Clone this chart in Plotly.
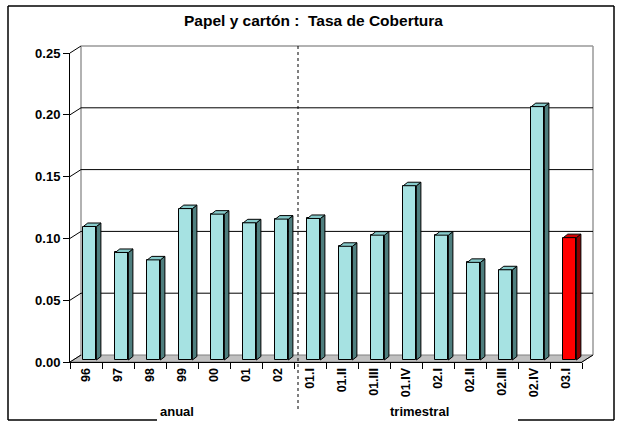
import plotly.graph_objects as go

# ---- data ----
categories = ["96", "97", "98", "99", "00", "01", "02",
              "01.I", "01.II", "01.III", "01.IV", "02.I", "02.II", "02.III", "02.IV", "03.I"]
tasa = [0.108, 0.087, 0.081, 0.1225, 0.118, 0.111, 0.114,
        0.1145, 0.092, 0.101, 0.141, 0.101, 0.079, 0.073, 0.205, 0.099]
y_ticks = [0.00, 0.05, 0.10, 0.15, 0.20, 0.25]
group_labels = ["anual", "trimestral"]
title_text = "Papel y cartón :  Tasa de Cobertura"

# ---- geometry helpers (pixel -> paper) ----
W_FIG, H_FIG = 621, 422
ML, MR, MT, MB = 70, 39, 53, 60
PW = W_FIG - ML - MR
PH = H_FIG - MT - MB
Y_BOT = H_FIG - MB


def px(x):
    return (x - ML) / PW


def py(y):
    return (Y_BOT - y) / PH


YMAX = 0.25
UNIT = PH / YMAX          # pixels per data unit (y)
XUNIT = PW / len(categories)  # pixels per category
DEPTH_X, DEPTH_Y = 11, 7   # wall depth in px
BAR_W, BAR_OFF = 0.41, -0.085
BAR_DX = 4.5 / XUNIT
BAR_DY = 3.5 / UNIT
BASE = 2 / UNIT

FRONT = "#A6E2E2"
SIDE = "#4E7E7E"
TOP = "#86CACA"
RED_FRONT = "#FF0000"
RED_SIDE = "#8E0000"
RED_TOP = "#D00000"

n = len(categories)
xs = list(range(n))
is_red = [c == "03.I" for c in categories]

fig = go.Figure()

# front faces
fig.add_trace(go.Bar(
    x=xs, y=tasa, base=[BASE] * n, width=BAR_W, offset=BAR_OFF,
    marker=dict(color=[RED_FRONT if r else FRONT for r in is_red],
                line=dict(color="black", width=1)),
    hoverinfo="skip", showlegend=False))


def faces(sel):
    sx, sy, tx, ty = [], [], [], []
    for i, v in enumerate(tasa):
        if is_red[i] != sel:
            continue
        xl = i + BAR_OFF
        xr = xl + BAR_W
        top = BASE + v
        sx += [xr, xr, xr + BAR_DX, xr + BAR_DX, xr, None]
        sy += [BASE, top, top + BAR_DY, BASE + BAR_DY, BASE, None]
        tx += [xl, xr, xr + BAR_DX, xl + BAR_DX, xl, None]
        ty += [top, top, top + BAR_DY, top + BAR_DY, top, None]
    return sx, sy, tx, ty


for sel, sc, tc in [(False, SIDE, TOP), (True, RED_SIDE, RED_TOP)]:
    sx, sy, tx, ty = faces(sel)
    fig.add_trace(go.Scatter(x=sx, y=sy, mode="lines", fill="toself", fillcolor=sc,
                             line=dict(color="black", width=1), hoverinfo="skip",
                             showlegend=False))
    fig.add_trace(go.Scatter(x=tx, y=ty, mode="lines", fill="toself", fillcolor=tc,
                             line=dict(color="black", width=1), hoverinfo="skip",
                             showlegend=False))

shapes = []
x_front_r = ML + PW
x_back_l = ML + DEPTH_X
x_back_r = x_front_r + DEPTH_X
y_front0 = Y_BOT
y_back0 = Y_BOT - DEPTH_Y

# floor
shapes.append(dict(type="path", xref="paper", yref="paper", layer="below",
                   path=f"M {px(ML)},{py(y_front0)} L {px(x_front_r)},{py(y_front0)} "
                        f"L {px(x_back_r)},{py(y_back0)} L {px(x_back_l)},{py(y_back0)} Z",
                   fillcolor="#C0C0C0", line=dict(color="#808080", width=1)))
shapes.append(dict(type="line", xref="paper", yref="paper", layer="above",
                   x0=px(x_front_r), y0=py(y_front0), x1=px(x_back_r), y1=py(y_back0),
                   line=dict(color="black", width=1)))

# back wall edges and gridlines
y_top_back = Y_BOT - YMAX * UNIT - DEPTH_Y
for xw in (x_back_l, x_back_r):
    shapes.append(dict(type="line", xref="paper", yref="paper", layer="below",
                       x0=px(xw), y0=py(y_back0), x1=px(xw), y1=py(y_top_back),
                       line=dict(color="#999999", width=1.5)))
for v in y_ticks:
    fy = Y_BOT - v * UNIT
    by = fy - DEPTH_Y
    if 0 < v < YMAX:
        shapes.append(dict(type="line", xref="paper", yref="paper", layer="below",
                           x0=px(x_back_l), y0=py(by), x1=px(x_back_r), y1=py(by),
                           line=dict(color="black", width=1)))
    if v == YMAX:
        shapes.append(dict(type="line", xref="paper", yref="paper", layer="below",
                           x0=px(x_back_l), y0=py(by), x1=px(x_back_r), y1=py(by),
                           line=dict(color="#999999", width=1.5)))
    shapes.append(dict(type="line", xref="paper", yref="paper", layer="below",
                       x0=px(ML), y0=py(fy), x1=px(x_back_l), y1=py(by),
                       line=dict(color="black", width=1)))

# dashed separator
shapes.append(dict(type="line", xref="paper", yref="paper", layer="above",
                   x0=px(298), y0=py(y_top_back), x1=px(298), y1=py(411),
                   line=dict(color="black", width=1, dash="3px,3px")))

# outer border (with gap behind group labels)
L, R, T, B = 8, 614, 6, 420
border = [((L, B), (L, T)), ((L, T), (R, T)), ((R, T), (R, B)),
          ((L, B), (157, B)), ((518, B), (R, B))]
for (x0, y0), (x1, y1) in border:
    shapes.append(dict(type="line", xref="paper", yref="paper", layer="above",
                       x0=px(x0), y0=py(y0), x1=px(x1), y1=py(y1),
                       line=dict(color="black", width=1.5)))

font_family = "Liberation Sans, Arial, sans-serif"
annotations = [
    dict(text=title_text, xref="paper", yref="paper", x=px(313), y=py(20),
         showarrow=False, font=dict(family=font_family, size=15.5, color="black", weight="bold"),
         xanchor="center", yanchor="middle"),
    dict(text=group_labels[0], xref="paper", yref="paper", x=px(177), y=py(411),
         showarrow=False, font=dict(family=font_family, size=13, color="black", weight="bold"),
         xanchor="center", yanchor="middle"),
    dict(text=group_labels[1], xref="paper", yref="paper", x=px(419), y=py(411),
         showarrow=False, font=dict(family=font_family, size=13, color="black", weight="bold"),
         xanchor="center", yanchor="middle"),
]

fig.update_layout(
    width=W_FIG, height=H_FIG,
    margin=dict(l=ML, r=MR, t=MT, b=MB, pad=0),
    paper_bgcolor="white", plot_bgcolor="rgba(0,0,0,0)",
    shapes=shapes, annotations=annotations, bargap=0,
    font=dict(family=font_family, size=12, color="black"),
    xaxis=dict(range=[-0.5, n - 0.5], tickmode="array", tickvals=xs, ticktext=categories,
               tickangle=-90, ticks="outside", ticklen=0, showgrid=False, zeroline=False,
               showline=True, linecolor="black", linewidth=1,
               tickfont=dict(family=font_family, size=12.5, weight="bold"),
               minor=dict(tickmode="array", tickvals=[i - 0.5 for i in range(n + 1)],
                          ticks="outside", ticklen=6, tickcolor="black", showgrid=False)),
    yaxis=dict(range=[0, YMAX], tickmode="array", tickvals=y_ticks,
               ticktext=[f"{v:.2f}" for v in y_ticks], ticks="outside", ticklen=6,
               tickcolor="black", showgrid=False, zeroline=False,
               showline=True, linecolor="black", linewidth=1,
               tickfont=dict(family=font_family, size=13, weight="bold")),
)

fig.write_html("out.html", config={"displayModeBar": False},
               post_script="document.body.style.margin='0';")
